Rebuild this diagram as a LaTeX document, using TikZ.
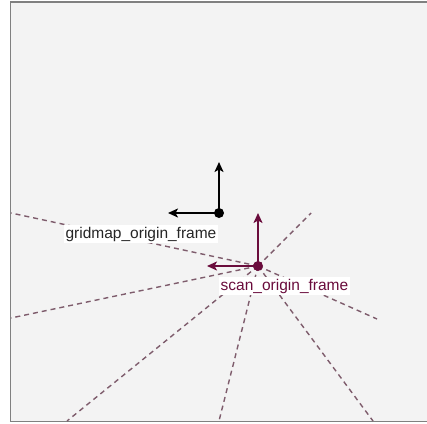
\documentclass[tikz,border=0pt]{standalone}
\usepackage{fontspec}
\setmainfont{Liberation Sans}
\usetikzlibrary{arrows.meta}

\definecolor{maroon}{HTML}{6A0C3C}
\definecolor{raygray}{HTML}{7E5C6C}
\definecolor{panel}{HTML}{F3F3F3}

\tikzset{
  frameaxis/.style={line width=2pt, -{Stealth[length=10pt,width=9pt,inset=2.5pt]}},
  origindot/.style={circle, fill, inner sep=0pt, minimum size=10pt},
  ray/.style={raygray, line width=1.4pt, dash pattern=on 5pt off 4pt},
  framelabel/.style={fill=white, inner sep=1.5pt, font=\fontsize{15.5}{17}\selectfont}
}

\begin{document}
\begin{tikzpicture}[x=1pt, y=-1pt]
  \useasboundingbox (0,0) rectangle (427,423);
  \draw[fill=panel, draw=gray, line width=1.5pt] (10.5,2) rectangle (432,421.5);

  \coordinate (S) at (258,266); % scan origin
  \coordinate (G) at (219,213); % gridmap origin

  % rays of the scan
  \coordinate (R1) at (11,213);
  \coordinate (R2) at (11,318);
  \coordinate (R3) at (67,421);
  \coordinate (R4) at (219,421);
  \coordinate (R5) at (373,421);
  \coordinate (R6) at (377,319);
  \coordinate (R7) at (311,213);
  \foreach \r in {R1,R2,R3,R4,R5,R6,R7}
    \draw[ray] (S) -- (\r);

  % gridmap_origin_frame
  \node[origindot, black] (gridmap) at (G) {};
  \coordinate (gx) at (168,213);
  \coordinate (gy) at (219,162);
  \draw[frameaxis, black] (gridmap.center) -- (gx);
  \draw[frameaxis, black] (gridmap.center) -- (gy);
  \node[framelabel, text=black!85] (gridmaplabel) at (141,234) {gridmap\_origin\_frame};

  % scan_origin_frame
  \node[origindot, maroon] (scan) at (S) {};
  \coordinate (sx) at (207,266);
  \coordinate (sy) at (258,213);
  \draw[frameaxis, maroon] (scan.center) -- (sx);
  \draw[frameaxis, maroon] (scan.center) -- (sy);
  \node[framelabel, text=maroon] (scanlabel) at (284.5,286) {scan\_origin\_frame};
\end{tikzpicture}
\end{document}
